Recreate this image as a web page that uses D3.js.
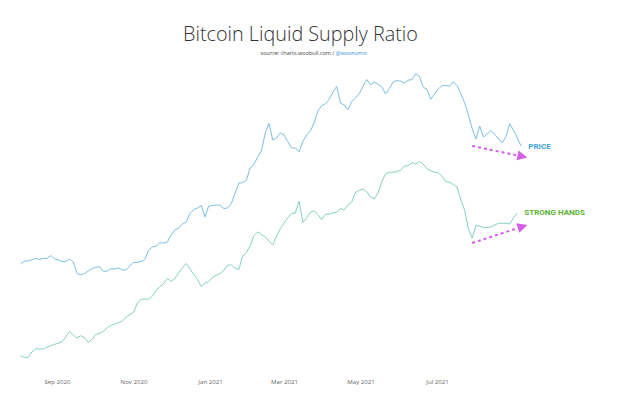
<!DOCTYPE html>
<html>
<head>
<meta charset="utf-8">
<script src="https://cdn.jsdelivr.net/npm/d3@7"></script>
<style>
  html, body { margin: 0; padding: 0; background: #fff; }
  #container { width: 638px; height: 398px; }
  .axis text { font-family: "Open Sans", sans-serif; font-size: 6.1px; fill: #666; }
  .axis .domain { display: none; }
</style>
</head>
<body>
<div id="container"></div>
<script>
// samples every 3 days, starting 2020-08-03
const startDate = new Date(Date.UTC(2020, 7, 3));
const stepDays = 3;

// BTC price, USD (log scale)
const price = [
  10780, 11080, 11080, 11220, 11360, 11230, 11360, 11340, 11660, 11310,
  11190, 11030, 11030, 11290, 10980, 9860, 9740, 9860, 10090, 10330,
  10440, 10510, 10050, 10090, 10310, 10280, 10400, 10180, 10190, 10580,
  10930, 10930, 11030, 11240, 12220, 12630, 12720, 13130, 13110, 13230,
  14120, 14800, 15080, 15610, 15940, 17260, 17880, 18170, 18600, 16710,
  18510, 18600, 18680, 18630, 18080, 18170, 18930, 20900, 22900, 23030,
  23550, 26390, 27260, 29240, 30920, 36410, 40040, 34260, 34910, 36580,
  35900, 33720, 31800, 31800, 30640, 33790, 35900, 37260, 40150, 44910,
  47180, 48030, 49990, 53520, 56440, 48390, 47490, 45540, 49070, 50700,
  52870, 56540, 60250, 57230, 58860, 57660, 56280, 52630, 55290, 58860,
  59630, 59300, 58310, 59860, 60130, 63600, 61960, 56180, 54830, 50090,
  52630, 55140, 56860, 56970, 56540, 59020, 56810, 52820, 48480, 43260,
  38140, 34580, 39040, 35240, 36240, 37440, 36100, 34650, 33320, 35400,
  39850, 37540, 34970, 32400
];

// strong hands (index)
const strongHands = [
  11.08, 10.63, 10.68, 12.0, 12.78, 12.75, 12.75, 13.18, 13.55, 13.9,
  14.18, 14.5, 15.75, 17.13, 16.25, 15.5, 16.08, 15.55, 14.38, 15.18,
  16.43, 16.63, 17.2, 18.05, 18.65, 18.98, 19.35, 19.7, 20.68, 21.33,
  21.88, 24.13, 25.2, 25.23, 25.2, 25.93, 27.35, 28.3, 29.05, 30.38,
  29.63, 30.35, 31.8, 33.1, 34.13, 32.8, 31.43, 30.1, 28.38, 29.23,
  29.6, 30.63, 31.2, 31.58, 32.45, 33.7, 33.75, 32.95, 32.63, 35.93,
  36.88, 38.58, 41.08, 42.03, 41.33, 40.8, 39.7, 38.75, 40.93, 42.8,
  44.2, 45.6, 46.63, 46.75, 49.75, 44.38, 45.55, 46.88, 47.33, 46.38,
  45.05, 46.4, 46.45, 46.8, 46.88, 47.85, 47.5, 48.75, 49.5, 51.88,
  52.4, 52.73, 52.05, 50.75, 50.28, 51.75, 54.63, 56.55, 56.93, 56.93,
  57.08, 57.45, 58.5, 58.6, 59.35, 59.0, 59.6, 58.95, 57.88, 57.25,
  56.98, 56.83, 55.88, 54.55, 54.5, 53.88, 53.25, 50.0, 47.5, 42.75,
  40.5, 43.63, 43.48, 43.1, 43.08, 43.28, 43.73, 44.18, 44.18, 44.18,
  44.0, 45.55, 46.75
];

const tickDates = ["2020-09-01", "2020-11-01", "2021-01-01", "2021-03-01", "2021-05-01", "2021-07-01"];

// annotation arrows: [date, value] from -> to
const priceArrow = [["2021-07-29", 32400], ["2021-09-11", 29100]];
const strongArrow = [["2021-07-29", 39.25], ["2021-09-11", 43.75]];

const width = 638, height = 398;
const parse = d3.utcParse("%Y-%m-%d");

const svg = d3.select('#container').append('svg')
  .attr('width', width)
  .attr('height', height);

const x = d3.scaleUtc()
  .domain([startDate, parse("2021-09-14")])
  .range([20.6, 531.1]);

const yPrice = d3.scaleLog().domain([10000, 64000]).range([272, 73]);
const yStrong = d3.scaleLinear().domain([0, 100]).range([400, 0]);

const dateAt = i => d3.utcDay.offset(startDate, i * stepDays);

svg.append('text')
  .attr('x', 300.5).attr('y', 41)
  .attr('text-anchor', 'middle')
  .style('font-family', '"Open Sans", sans-serif')
  .style('font-weight', 300)
  .style('font-size', '19.8px')
  .style('fill', '#333')
  .text('Bitcoin Liquid Supply Ratio');

const sub = svg.append('text')
  .attr('x', 314).attr('y', 55)
  .attr('text-anchor', 'middle')
  .style('font-family', '"Open Sans", sans-serif')
  .style('font-size', '5.5px')
  .style('fill', '#444');
sub.append('tspan').text('source: charts.woobull.com / ');
sub.append('tspan').style('fill', '#3a8fd8').text('@woonomic');

svg.append('g')
  .attr('class', 'axis')
  .attr('transform', 'translate(0, 372)')
  .call(d3.axisBottom(x)
    .tickValues(tickDates.map(parse))
    .tickFormat(d3.utcFormat('%b %Y'))
    .tickSize(0)
    .tickPadding(7.6));

const priceLine = d3.line()
  .x((d, i) => x(dateAt(i)))
  .y(d => yPrice(d));

const strongLine = d3.line()
  .x((d, i) => x(dateAt(i)))
  .y(d => yStrong(d));

svg.append('path')
  .datum(strongHands)
  .attr('d', strongLine)
  .attr('fill', 'none')
  .attr('stroke', '#86cfc3')
  .attr('stroke-width', 1);

svg.append('path')
  .datum(price)
  .attr('d', priceLine)
  .attr('fill', 'none')
  .attr('stroke', '#7cbfe0')
  .attr('stroke-width', 1);

// arrows
const arrowColor = '#d65ee8';
function drawArrow(pts, y) {
  const x0 = x(parse(pts[0][0])), y0 = y(pts[0][1]);
  const x1 = x(parse(pts[1][0])), y1 = y(pts[1][1]);
  const ang = Math.atan2(y1 - y0, x1 - x0);
  const headLen = 10, headW = 5;
  const bx = x1 - headLen * Math.cos(ang), by = y1 - headLen * Math.sin(ang);
  svg.append('line')
    .attr('x1', x0).attr('y1', y0)
    .attr('x2', bx).attr('y2', by)
    .attr('stroke', arrowColor)
    .attr('stroke-width', 2)
    .attr('stroke-dasharray', '3,3');
  const px = -Math.sin(ang), py = Math.cos(ang);
  svg.append('path')
    .attr('d', `M${x1},${y1}L${bx + px * headW},${by + py * headW}L${bx - px * headW},${by - py * headW}Z`)
    .attr('fill', arrowColor);
  return [x1, y1];
}

const pEnd = drawArrow(priceArrow, yPrice);
const sEnd = drawArrow(strongArrow, yStrong);

svg.append('text')
  .attr('x', pEnd[0] + 1).attr('y', pEnd[1] - 8)
  .style('font-family', 'Roboto, sans-serif')
  .style('font-weight', 700)
  .style('font-size', '8px')
  .style('fill', '#3ba5d8')
  .text('PRICE');

svg.append('text')
  .attr('x', sEnd[0] - 3).attr('y', sEnd[1] - 10)
  .style('font-family', 'Roboto, sans-serif')
  .style('font-weight', 700)
  .style('font-size', '8px')
  .style('fill', '#5ab334')
  .text('STRONG HANDS');
</script>
</body>
</html>
